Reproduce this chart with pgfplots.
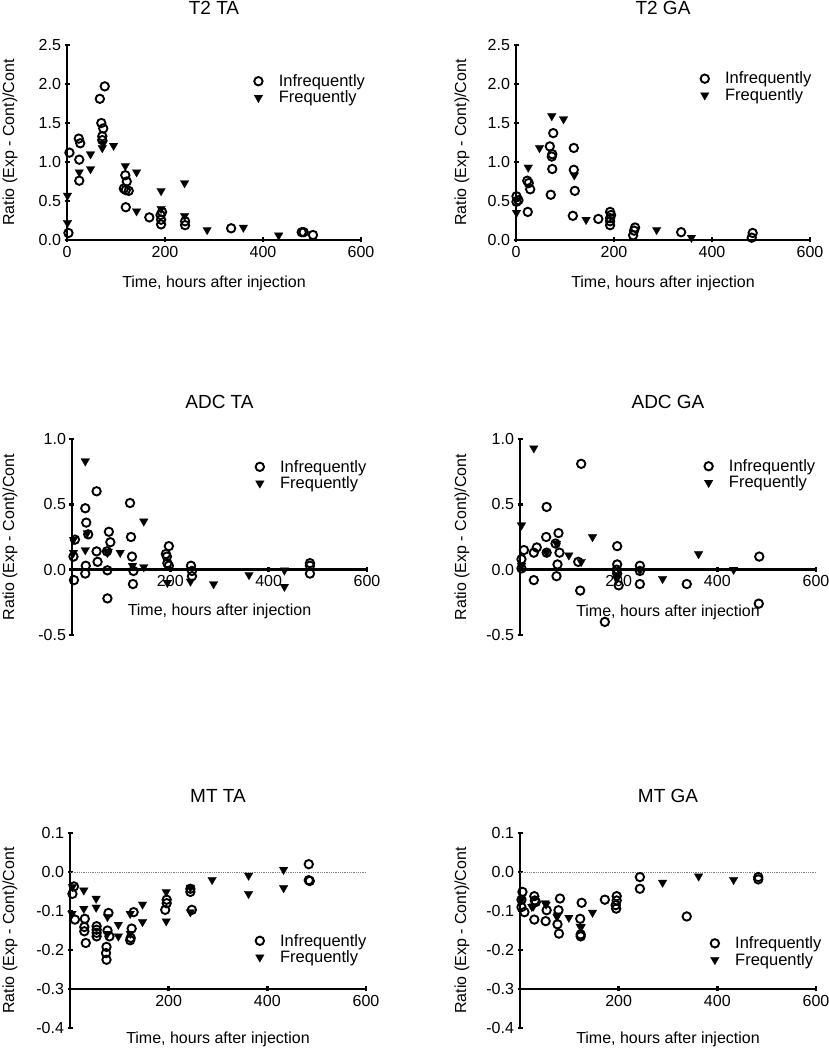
\documentclass[border=0pt]{standalone}
\usepackage{fontspec}
\setmainfont{Liberation Sans}
\usepackage{pgfplots}
\pgfplotsset{compat=1.18}

\pgfplotsset{
  base/.style={
    scale only axis, width=294pt, height=195pt,
    xmin=0, xmax=600, clip=false,
    tick style={line width=2.8pt, black},
    major tick length=5pt,
    tick align=outside,
    tick label style={font=\fontsize{16}{18}\selectfont},
    /pgf/number format/assume math mode=true,
    yticklabel style={/pgf/number format/.cd, fixed, fixed zerofill, precision=1},
    xticklabel style={/pgf/number format/.cd, fixed, precision=0},
    title style={font=\fontsize{19}{21}\selectfont, at={(axis description cs:0.5,1)}, anchor=center, yshift=31pt},
    ylabel={Ratio (Exp - Cont)/Cont},
    xlabel={Time, hours after injection},
    legend style={draw=none, fill=none, font=\fontsize{16.5}{19}\selectfont, anchor=center,
      cells={anchor=west}, nodes={inner sep=0pt}, row sep=3pt,
      /tikz/every odd column/.append style={column sep=16pt}},
    legend image code/.code={\draw[#1] plot coordinates {(0pt,0pt)};},
  },
  circ/.style={only marks, mark=o, mark size=4.2pt, mark options={line width=1.9pt, draw=black}, black},
  tri/.style={only marks, mark=triangle*, mark size=5pt, mark options={rotate=180, fill=black, draw=black, line width=0.2pt}, black},
}

\begin{document}
\begin{tikzpicture}
\path[use as bounding box] (0,0) rectangle (829pt,1050pt);

% ---------------- T2 TA ----------------
\begin{axis}[base, at={(67pt,810pt)}, anchor=south west,
  axis x line=bottom, axis y line=left, axis line style={line width=2.8pt, -},
  ymin=0, ymax=2.5, ytick={0,0.5,1,1.5,2,2.5}, xtick={0,200,400,600},
  title={T2 TA},
  every axis x label/.style={at={(axis description cs:0.5,-0.22)}, anchor=center, font=\fontsize{16}{18}\selectfont},
  every axis y label/.style={at={(axis description cs:-0.194,0.5)}, rotate=90, anchor=center, font=\fontsize{16}{18}\selectfont},
  legend style={at={(axis description cs:0.825,0.772)}}]
\addplot[circ] coordinates {(3,0.09) (5,1.12) (24,1.30) (27,1.24) (25,1.03) (25,0.76) (67,1.81) (77,1.97) (70,1.50) (74,1.43) (72,1.33) (72,1.28) (119,0.83) (122,0.75) (116,0.66) (120,0.64) (126,0.63) (120,0.42) (168,0.29) (194,0.36) (191,0.32) (192,0.26) (192,0.20) (241,0.24) (241,0.19) (335,0.15) (479,0.10) (483,0.10) (502,0.064)};
\addlegendentry{Infrequently}
\addplot[tri] coordinates {(1,0.57) (1,0.22) (25,0.87) (48,1.10) (48,0.91) (72,1.18) (74,1.24) (95,1.21) (119,0.95) (142,0.87) (142,0.37) (192,0.63) (192,0.40) (240,0.73) (240,0.31) (286,0.13) (360,0.16) (432,0.06)};
\addlegendentry{Frequently}
\end{axis}

% ---------------- T2 GA ----------------
\begin{axis}[base, at={(516pt,810pt)}, anchor=south west,
  axis x line=bottom, axis y line=left, axis line style={line width=2.8pt, -},
  ymin=0, ymax=2.5, ytick={0,0.5,1,1.5,2,2.5}, xtick={0,200,400,600},
  title={T2 GA},
  every axis x label/.style={at={(axis description cs:0.5,-0.22)}, anchor=center, font=\fontsize{16}{18}\selectfont},
  every axis y label/.style={at={(axis description cs:-0.184,0.5)}, rotate=90, anchor=center, font=\fontsize{16}{18}\selectfont},
  legend style={at={(axis description cs:0.816,0.785)}}]
\addplot[circ] coordinates {(1,0.56) (5,0.51) (1,0.49) (23,0.76) (26,0.73) (29,0.65) (24,0.36) (69,1.20) (76,1.37) (74,1.10) (73,1.07) (74,0.91) (71,0.58) (118,1.18) (118,0.90) (120,0.63) (116,0.31) (168,0.27) (192,0.36) (194,0.32) (192,0.28) (192,0.24) (192,0.19) (243,0.16) (241,0.12) (239,0.06) (337,0.10) (483,0.09) (481,0.03)};
\addlegendentry{Infrequently}
\addplot[tri] coordinates {(1,0.35) (25,0.93) (48,1.18) (73,1.59) (97,1.55) (119,0.83) (143,0.26) (287,0.13) (358,0.03)};
\addlegendentry{Frequently}
\end{axis}

% ---------------- ADC TA ----------------
\begin{axis}[base, at={(72pt,415pt)}, anchor=south west, width=295pt, height=196pt,
  axis x line=middle, axis y line=left, axis line style={line width=2.8pt, -},
  ymin=-0.5, ymax=1, ytick={-0.5,0,0.5,1}, xtick={200,400,600},
  title={ADC TA},
  every axis x label/.style={at={(axis description cs:0.5,0.122)}, anchor=center, font=\fontsize{16}{18}\selectfont},
  every axis y label/.style={at={(axis description cs:-0.21,0.5)}, rotate=90, anchor=center, font=\fontsize{16}{18}\selectfont},
  legend style={at={(axis description cs:0.81,0.816)}}]
\addplot[circ] coordinates {(6,0.23) (3,0.10) (4,-0.08) (27,0.47) (29,0.36) (28,0.03) (27,-0.03) (50,0.60) (33,0.27) (50,0.14) (52,0.06) (75,0.29) (78,0.21) (71,0.14) (72,-0.005) (72,-0.22) (118,0.51) (120,0.25) (122,0.10) (125,-0.01) (124,-0.11) (197,0.18) (191,0.12) (193,0.10) (194,0.05) (197,0.03) (242,0.03) (244,-0.01) (244,-0.05) (484,0.05) (484,0.03) (484,-0.03)};
\addlegendentry{Infrequently}
\addplot[tri] coordinates {(3,0.23) (3,0.13) (27,0.83) (27,0.15) (31,0.28) (72,0.13) (74,0.14) (98,0.13) (123,0.03) (146,0.37) (146,0.02) (194,-0.10) (241,-0.09) (288,-0.11) (360,-0.04) (432,-0.13) (432,-0.005)};
\addlegendentry{Frequently}
\end{axis}

% ---------------- ADC GA ----------------
\begin{axis}[base, at={(520pt,415pt)}, anchor=south west, width=296pt, height=196pt,
  axis x line=middle, axis y line=left, axis line style={line width=2.8pt, -},
  ymin=-0.5, ymax=1, ytick={-0.5,0,0.5,1}, xtick={200,400,600},
  title={ADC GA},
  every axis x label/.style={at={(axis description cs:0.5,0.117)}, anchor=center, font=\fontsize{16}{18}\selectfont},
  every axis y label/.style={at={(axis description cs:-0.196,0.5)}, rotate=90, anchor=center, font=\fontsize{16}{18}\selectfont},
  legend style={at={(axis description cs:0.81,0.819)}}]
\addplot[circ] coordinates {(3,0.01) (3,0.08) (8,0.15) (28,0.13) (34,0.17) (28,-0.08) (54,0.48) (53,0.25) (54,0.13) (72,0.20) (78,0.28) (80,0.13) (76,0.04) (74,-0.05) (124,0.81) (118,0.06) (122,-0.16) (172,-0.40) (197,0.18) (197,0.04) (196,0.0) (197,-0.03) (200,-0.12) (243,0.03) (243,-0.01) (243,-0.11) (338,-0.11) (485,0.10) (484,-0.26)};
\addlegendentry{Infrequently}
\addplot[tri] coordinates {(3,0.34) (3,0.03) (28,0.93) (54,0.13) (74,0.20) (99,0.11) (124,0.06) (147,0.25) (196,-0.07) (197,-0.04) (243,-0.005) (289,-0.07) (362,0.12) (433,0.0)};
\addlegendentry{Frequently}
\end{axis}

% ---------------- MT TA ----------------
\begin{axis}[base, at={(70pt,22pt)}, anchor=south west, width=296pt, height=195pt,
  axis x line=bottom, axis y line=left, axis x line shift=-39pt, axis line style={line width=2.8pt, -},
  ymin=-0.4, ymax=0.1, ytick={-0.4,-0.3,-0.2,-0.1,0,0.1}, xtick={200,400,600},
  title={MT TA},
  every axis x label/.style={at={(axis description cs:0.5,-0.056)}, anchor=center, font=\fontsize{16}{18}\selectfont},
  every axis y label/.style={at={(axis description cs:-0.203,0.5)}, rotate=90, anchor=center, font=\fontsize{16}{18}\selectfont},
  legend style={at={(axis description cs:0.814,0.405)}}]
\addplot[forget plot, gray, densely dotted, line width=0.8pt] coordinates {(0,0) (600,0)};
\addplot[circ] coordinates {(8,-0.037) (5,-0.056) (10,-0.122) (30,-0.12) (29,-0.141) (29,-0.152) (32,-0.182) (54,-0.139) (54,-0.148) (54,-0.156) (54,-0.165) (78,-0.105) (76,-0.15) (80,-0.165) (74,-0.192) (73,-0.208) (74,-0.225) (129,-0.103) (125,-0.145) (123,-0.169) (122,-0.175) (193,-0.097) (196,-0.071) (196,-0.080) (244,-0.043) (244,-0.051) (247,-0.097) (484,0.020) (484,-0.021) (486,-0.023)};
\addlegendentry{Infrequently}
\addplot[tri] coordinates {(5,-0.038) (4,-0.107) (28,-0.047) (28,-0.094) (53,-0.068) (53,-0.091) (76,-0.115) (76,-0.158) (98,-0.135) (98,-0.165) (122,-0.107) (122,-0.158) (147,-0.083) (147,-0.128) (195,-0.051) (195,-0.126) (244,-0.04) (244,-0.103) (288,-0.020) (362,-0.009) (362,-0.056) (433,0.006) (433,-0.041)};
\addlegendentry{Frequently}
\end{axis}

% ---------------- MT GA ----------------
\begin{axis}[base, at={(520pt,22pt)}, anchor=south west, width=296pt, height=195pt,
  axis x line=bottom, axis y line=left, axis x line shift=-39pt, axis line style={line width=2.8pt, -},
  ymin=-0.4, ymax=0.1, ytick={-0.4,-0.3,-0.2,-0.1,0,0.1}, xtick={200,400,600},
  title={MT GA},
  every axis x label/.style={at={(axis description cs:0.5,-0.056)}, anchor=center, font=\fontsize{16}{18}\selectfont},
  every axis y label/.style={at={(axis description cs:-0.196,0.5)}, rotate=90, anchor=center, font=\fontsize{16}{18}\selectfont},
  legend style={at={(axis description cs:0.831,0.392)}}]
\addplot[forget plot, gray, densely dotted, line width=0.8pt] coordinates {(0,0) (600,0)};
\addplot[circ] coordinates {(5,-0.051) (3,-0.071) (3,-0.090) (9,-0.103) (29,-0.062) (30,-0.073) (29,-0.122) (32,-0.077) (54,-0.098) (52,-0.126) (81,-0.068) (78,-0.098) (76,-0.134) (79,-0.158) (125,-0.079) (122,-0.120) (123,-0.160) (123,-0.165) (172,-0.071) (196,-0.062) (196,-0.073) (194,-0.085) (195,-0.094) (243,-0.013) (243,-0.043) (338,-0.114) (483,-0.013) (483,-0.019)};
\addlegendentry{Infrequently}
\addplot[tri] coordinates {(3,-0.071) (24,-0.089) (27,-0.088) (51,-0.080) (53,-0.083) (75,-0.115) (76,-0.111) (99,-0.117) (122,-0.140) (124,-0.141) (147,-0.104) (289,-0.027) (362,-0.011) (433,-0.020)};
\addlegendentry{Frequently}
\end{axis}
\end{tikzpicture}
\end{document}
